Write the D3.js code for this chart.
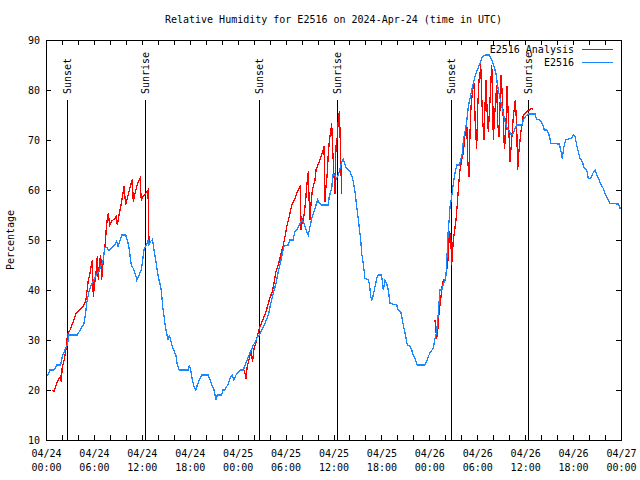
<!DOCTYPE html>
<html><head><meta charset="utf-8">
<script src="https://cdn.jsdelivr.net/npm/d3@7"></script>
<style>
body{margin:0;background:#fff}
svg text{font-family:"DejaVu Sans Mono","Liberation Mono",monospace;font-size:10px;fill:#000}
</style>
</head><body>
<svg id="c" width="640" height="480"></svg>
<script>
const chartTitle = "Relative Humidity for E2516 on 2024-Apr-24 (time in UTC)";
const yAxisLabel = "Percentage";
const startTime = "2024-04-24T00:00:00Z";
const yTicks = [10, 20, 30, 40, 50, 60, 70, 80, 90];
const legendLabels = ["E2516 Analysis", "E2516"];
const sunLabels = ["Sunset", "Sunrise", "Sunset", "Sunrise", "Sunset", "Sunrise"];
const sunHours = [2.67, 12.43, 26.71, 36.48, 50.71, 60.4];

// observations: hours since start, RH %
const obsHours = [0,0.25,0.5,1.0,1.34,1.84,2.04,2.47,2.67,2.88,3.92,4.13,4.42,4.76,4.97,5.1,5.38,5.6,5.89,6.3,6.64,6.85,7.18,7.35,7.64,7.89,8.3,8.6,8.85,9.02,9.35,9.48,9.98,10.18,10.39,10.68,10.93,11.23,11.36,11.65,11.93,12.11,12.27,12.48,12.68,12.8,12.9,13.1,13.33,13.52,13.74,13.94,14.15,14.36,14.49,14.61,14.78,14.94,15.11,15.31,15.44,15.61,15.82,16.07,16.28,16.44,16.69,17.82,17.94,18.12,18.32,18.53,18.75,18.95,19.2,19.5,20.32,20.54,20.75,21.04,21.29,21.45,22.0,22.13,22.41,22.63,22.83,23.13,23.33,23.54,23.79,24.08,24.29,24.71,24.92,25.13,25.33,25.63,25.96,26.17,26.38,26.71,27.01,27.42,27.84,28.14,28.46,28.8,29.09,29.39,29.64,29.84,30.34,30.55,30.93,31.18,31.47,31.81,32.02,32.22,32.43,32.64,32.84,33.06,33.27,33.56,33.81,34.02,34.22,34.52,35.35,35.47,35.78,35.9,36.19,36.4,36.6,36.81,37.03,37.23,37.57,37.85,38.07,38.4,38.69,38.91,39.19,39.41,39.53,39.73,39.94,40.36,40.49,40.66,40.79,40.99,41.2,41.41,41.61,41.95,42.11,42.24,42.45,42.66,42.86,43.08,43.91,44.11,44.42,44.62,44.83,45.04,45.24,45.58,45.79,45.99,46.21,46.49,47.46,47.67,47.87,48.17,48.5,48.71,48.92,49.12,49.33,49.55,49.75,49.96,50.09,50.25,50.38,50.5,50.59,50.8,51.0,51.21,51.43,51.75,51.93,52.13,52.26,52.47,52.68,52.88,53.09,53.31,53.51,53.72,54.01,54.35,54.63,54.97,55.51,55.81,56.1,56.35,56.51,56.72,56.94,57.19,57.39,57.6,57.81,58.01,58.23,58.52,58.73,58.94,59.57,59.77,60.11,60.4,61.23,61.45,61.86,62.2,62.4,62.7,62.99,63.24,64.28,64.45,64.65,64.86,65.08,65.83,66.03,66.24,66.45,66.65,66.87,67.15,67.41,67.71,67.91,68.21,68.46,68.75,68.96,69.28,69.5,69.79,70.0,70.29,70.63,71.67,71.88,72];
const obsValues = [23,23,24,24,25,25,26.7,28.4,29,31,31,31.6,32.4,33.3,35.4,37.4,39.7,40.7,41.7,43,43.7,44.7,46,48.5,48.5,47.8,48.5,49,49.7,48.7,50.3,51,51,50,48.5,45,44.3,43,42,43,44,46,48,48.8,49.3,50,49,49.7,50.1,48,46,43.7,42,40.7,39,36.7,34.7,32.7,31.3,30,31,30,28.7,27.7,26.8,25,24,24,25,24,22,20.7,20,21,22,23,23,22,21,20,18,19,19,20,20,20.7,21.3,22.7,23,22,23,23.5,24,24,25,25.7,26.7,27.7,29,29.5,30.3,31,32,33.3,35,37.3,39.3,41.3,43.7,45.7,47.7,48.9,49,50,50,51.7,52.1,53.3,54,53.7,52.7,51.7,51,52.7,54.3,55.7,57,58,57.4,57,57,58.7,60.3,63,63,62.3,63,64.3,65.7,66.1,64.5,64.1,63.7,62.3,59.7,56.7,53,50,47.3,45.3,42.3,42,41.3,38.7,38,39,40.7,42.3,43,43,42,40,42,41.3,40,37.3,37,36,35.7,34,32.3,30.7,29,28.7,28,27,26.3,25,25,25.7,26.7,27.7,28.3,30.3,31.7,35.3,40,40,41,42,43,48,52.3,54.3,56.7,58.7,61.3,63.3,65,65,66,67.3,70,71.7,73.7,76.7,78.3,80,81.3,82.7,84,85.3,86.7,87,87,86,84.7,83.3,81.3,79.3,77.7,76,74.3,73,72.3,71.7,71,71.3,72.3,73,73,74,74.8,75.2,75.2,74.1,74,73,72,72,71,69.3,69.2,68,66.3,68.7,70,70.4,71,70.7,69,67.7,66.3,65.7,64.3,64,62.3,62.3,63.3,64,63,62,61,60.3,59.2,58.3,57.3,57.2,56.3,56.5];

// analysis: hours since start, RH % (null = gap)
const anaHours = [0.79,1.0,1.21,1.41,1.63,1.79,1.92,2.04,2.19,2.34,2.47,2.59,2.75,3.01,3.17,3.42,3.72,4.01,4.35,4.67,4.97,5.17,5.3,5.51,5.72,5.8,5.92,6.1,6.3,6.42,6.55,6.72,6.85,6.97,7.18,7.39,7.55,7.68,7.8,7.98,8.18,8.39,8.64,8.8,8.93,9.1,9.43,9.64,9.77,9.98,10.18,10.39,10.61,10.81,10.93,11.14,11.36,11.56,11.77,11.93,12.15,12.48,12.77,12.9,
  18,
  24.83,25.04,25.2,25.46,25.67,25.86,26.05,26.26,26.46,26.8,27.13,27.55,27.96,28.39,28.8,29.09,29.39,29.72,29.93,30.14,30.47,30.77,31.09,31.39,31.68,31.84,31.93,32.01,32.14,32.31,32.52,32.64,32.77,32.85,32.93,33.06,33.18,33.35,33.47,33.68,33.81,33.97,34.22,34.44,34.65,34.81,34.94,35.06,35.22,35.35,35.47,35.65,35.77,35.9,36.06,36.19,36.31,36.48,36.6,36.73,36.81,36.9,37.03,
  42,
  48.71,48.92,49.04,49.21,49.33,49.46,49.59,49.75,49.96,50.09,50.25,50.38,50.5,50.68,50.8,51.0,51.15,51.34,51.51,51.72,51.84,52.05,52.26,52.39,52.55,52.68,52.8,52.97,53.09,53.22,53.43,53.6,53.76,53.93,54.06,54.22,54.35,54.43,54.56,54.68,54.85,54.97,55.1,55.26,55.39,55.6,55.81,55.93,56.01,56.14,56.44,56.56,56.72,56.85,56.98,57.1,57.27,57.39,57.56,57.73,57.89,58.01,58.1,58.31,58.52,58.77,58.94,59.06,59.23,59.44,59.64,59.77,59.98,60.19,60.52,60.82,60.94];
const anaValues = [20,19.7,20.7,21.7,22.3,22.7,21.7,24.7,25.3,26.7,27.7,29.7,31.3,32,32.7,33.7,35.2,35.7,36.3,36.8,37.7,40.3,42,43.3,45.3,46,38.7,41.3,44,46.7,42,46,47,42,46.3,48.7,52.3,54.3,55.3,53,53.7,54,54.3,54.7,53,54.7,57.3,59.3,60.7,57,58.3,59.7,61,62.1,57.7,59.3,60.7,61.7,62.3,58,58.7,59.3,60,49.3,
  null,
  24,22.3,24.7,26.3,27.7,25.7,28.3,29.3,30.8,32.7,34,35.7,38,40,43.7,45,47,49,50.7,52.7,54.7,57,58,59.3,60.3,60.7,52,54.7,53.3,55,58,60.7,62.7,63.7,58.7,54,57.3,60,60.7,62,64,64.7,65.7,66.7,67.7,68.7,57.7,60.7,63.3,67.3,69.7,71.7,73.3,68,63,59.3,68.7,70.7,74,75.7,72,66,59.3,
  null,
  34,30.3,31.7,35.3,37,38.7,40.7,42,42,43.3,44.7,46.7,51.7,50.7,45,50,51.7,54,57.3,62,64,66,67.3,70,72,74,66,62.7,71.3,76.7,80,81.3,72.7,68.3,76.7,82,83.3,85.3,78.7,74,70,76.7,82,74.7,71.7,78,85,80,70,74,81,73.3,70.7,76.7,83,80,74,68.3,70.7,80.7,74.7,70,65.7,70,74.7,78,72.7,64,68,71.3,73.3,75,75.3,75.7,76,76.3,76.1];

const svg = d3.select("#c");
const M = {l: 46, r: 621, t: 40, b: 440};
const t0 = new Date(startTime);
const toDate = h => new Date(t0.getTime() + h * 3600e3);

const x = d3.scaleUtc().domain([toDate(0), toDate(72)]).range([M.l, M.r]);
const y = d3.scaleLinear().domain([10, 90]).range([M.b, M.t]);

const majorTicks = d3.range(0, 73, 6).map(toDate);
const minorTicks = d3.range(0, 73, 2).map(toDate);
const tickLen = 5;

// title
svg.append("text").attr("x", (M.l + M.r) / 2).attr("y", 23).attr("text-anchor", "middle").text(chartTitle);

// y label
svg.append("text").attr("transform", `translate(14,${(M.t + M.b) / 2}) rotate(-90)`)
  .attr("text-anchor", "middle").text(yAxisLabel);

const styleAxis = g => {
  g.select(".domain").remove();
  g.selectAll(".tick line").attr("stroke", "#000").attr("shape-rendering", "crispEdges");
  g.attr("font-family", null).attr("font-size", null);
};

// bottom minor + major
svg.append("g").attr("transform", `translate(0,${M.b})`)
  .call(d3.axisBottom(x).tickValues(minorTicks).tickSizeInner(-tickLen).tickSizeOuter(0).tickFormat(""))
  .call(styleAxis);
const fmtDay = d3.utcFormat("%m/%d"), fmtTime = d3.utcFormat("%H:%M");
const gx = svg.append("g").attr("transform", `translate(0,${M.b})`)
  .call(d3.axisBottom(x).tickValues(majorTicks).tickSizeInner(-tickLen).tickSizeOuter(0).tickPadding(0))
  .call(styleAxis);
gx.selectAll(".tick text").each(function(d) {
  const t = d3.select(this).attr("dy", null).attr("y", 0).text(null);
  t.append("tspan").attr("x", 0).attr("y", 17).text(fmtDay(d));
  t.append("tspan").attr("x", 0).attr("y", 31).text(fmtTime(d));
});
// top mirror
svg.append("g").attr("transform", `translate(0,${M.t})`)
  .call(d3.axisTop(x).tickValues(minorTicks).tickSizeInner(-tickLen).tickSizeOuter(0).tickFormat(""))
  .call(styleAxis);
// left
svg.append("g").attr("transform", `translate(${M.l},0)`)
  .call(d3.axisLeft(y).tickValues(yTicks).tickSizeInner(-tickLen).tickSizeOuter(0).tickPadding(6).tickFormat(d3.format("d")))
  .call(styleAxis);
// right mirror
svg.append("g").attr("transform", `translate(${M.r},0)`)
  .call(d3.axisRight(y).tickValues(yTicks).tickSizeInner(-tickLen).tickSizeOuter(0).tickFormat(""))
  .call(styleAxis);

// sunrise/sunset lines
const sunG = svg.append("g");
sunHours.forEach((h, i) => {
  const xx = Math.round(x(toDate(h))) + 0.5;
  sunG.append("line").attr("x1", xx).attr("x2", xx).attr("y1", y(78)).attr("y2", M.b)
    .attr("stroke", "#000").attr("stroke-width", 1).attr("shape-rendering", "crispEdges");
  sunG.append("text").attr("transform", `translate(${xx},${y(78) - 6}) rotate(-90)`)
    .attr("dy", "0.35em").attr("text-anchor", "start").text(sunLabels[i]);
});

// data lines
const obs = obsHours.map((h, i) => ({t: toDate(h), v: obsValues[i]}));
const ana = anaHours.map((h, i) => ({t: toDate(h), v: anaValues[i]}));
const line = d3.line().defined(d => d.v != null).x(d => x(d.t)).y(d => y(d.v));

svg.append("path").datum(ana).attr("d", line).attr("fill", "none").attr("stroke", "#ff0000")
  .attr("stroke-width", 1.3).attr("shape-rendering", "crispEdges");
svg.append("path").datum(obs).attr("d", line).attr("fill", "none").attr("stroke", "#1a87ff")
  .attr("stroke-width", 1.3).attr("shape-rendering", "crispEdges");

// border
svg.append("rect").attr("x", M.l + 0.5).attr("y", M.t + 0.5).attr("width", M.r - M.l).attr("height", M.b - M.t)
  .attr("fill", "none").attr("stroke", "#000").attr("shape-rendering", "crispEdges");

// legend
const legendColors = ["#ff0000", "#1a87ff"];
legendLabels.forEach((lab, i) => {
  const cy = 49 + i * 13;
  svg.append("text").attr("x", 574).attr("y", cy).attr("dy", "0.35em").attr("text-anchor", "end").text(lab);
  svg.append("line").attr("x1", 582).attr("x2", 613).attr("y1", cy + 0.5).attr("y2", cy + 0.5)
    .attr("stroke", legendColors[i]).attr("stroke-width", 1).attr("shape-rendering", "crispEdges");
});
</script>
</body></html>
